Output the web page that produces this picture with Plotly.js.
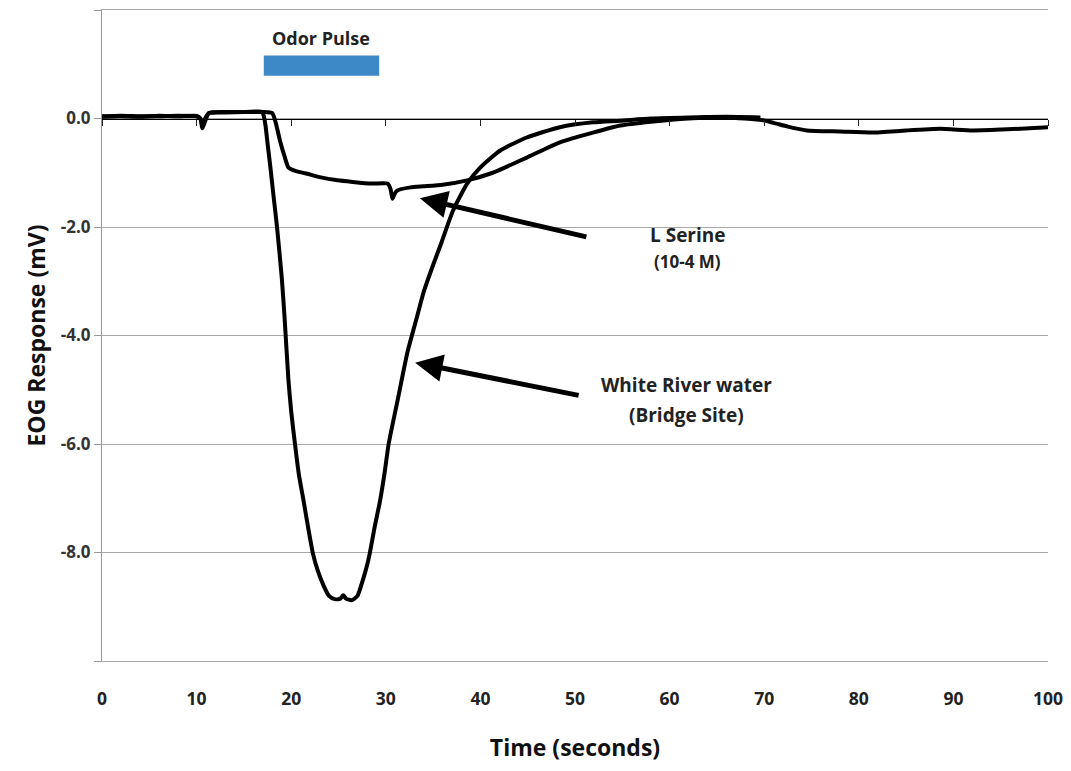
<!DOCTYPE html>
<html>
<head>
<meta charset="utf-8">
<script src="https://cdn.plot.ly/plotly-3.0.1.min.js"></script>
<style>html,body{margin:0;padding:0;background:#fff;}#chart{width:1071px;height:771px;}</style>
</head>
<body>
<div id="chart"></div>
<script>
// White River water (Bridge Site) trace
const riverTime = [0,2,4,6,8,10,10.4,10.6,10.9,11.3,13,15,16.5,16.9,17.1,17.3,17.5,17.8,18.1,18.5,19.0,19.3,19.7,20.0,20.4,20.8,21.3,21.8,22.3,22.8,23.4,24.0,24.6,25.2,25.5,25.8,26.4,27.0,27.5,28.0,28.3,28.8,29.4,29.9,30.3,31.3,32.3,33.2,34.0,35.0,35.9,37.1,38.6,40.0,42.1,44.9,48.4,51.9,54.8,58,62,66,69.6];
const riverEOG  = [0.03,0.04,0.03,0.05,0.04,0.05,0.0,-0.18,-0.05,0.1,0.12,0.12,0.13,0.12,0.05,-0.15,-0.46,-0.9,-1.38,-2.0,-2.93,-3.67,-4.8,-5.4,-6.0,-6.55,-7.04,-7.55,-8.02,-8.33,-8.6,-8.8,-8.86,-8.85,-8.79,-8.85,-8.88,-8.8,-8.55,-8.25,-8.02,-7.55,-7.04,-6.5,-6.0,-5.15,-4.3,-3.72,-3.2,-2.7,-2.28,-1.7,-1.2,-0.9,-0.59,-0.35,-0.16,-0.07,-0.04,0.0,0.02,0.03,0.02];

// L Serine (10-4 M) trace
const serineTime = [0,2,4,6,8,10,10.4,10.6,10.9,11.3,13,15,17,18.0,18.4,18.8,19.3,19.7,20.5,21.5,23,24.9,26.5,28.5,30.2,30.5,30.7,30.9,31.2,32.6,34,36,38.6,41.3,44.9,48.4,51.9,54.8,58,62,66,69.8,71,72.5,74.5,78,81.5,85,88.6,92,95.7,100];
const serineEOG  = [0.04,0.05,0.04,0.04,0.05,0.04,0.0,-0.12,0.0,0.1,0.11,0.12,0.12,0.1,-0.1,-0.4,-0.7,-0.9,-0.97,-1.01,-1.08,-1.14,-1.17,-1.2,-1.2,-1.3,-1.48,-1.4,-1.33,-1.27,-1.25,-1.22,-1.14,-1.0,-0.72,-0.44,-0.26,-0.13,-0.06,0.0,0.02,-0.03,-0.08,-0.15,-0.22,-0.24,-0.26,-0.22,-0.19,-0.22,-0.2,-0.16];

// Odor pulse window (seconds) and bar height (mV)
const pulseStart = 17.1, pulseEnd = 29.3;
const pulseLow = 0.79, pulseHigh = 1.16;

const yTickVals = [-10,-8,-6,-4,-2,0,2];
const yTickText = ['','-8.0','-6.0','-4.0','-2.0','0.0',''];
const xTickVals = [0,10,20,30,40,50,60,70,80,90,100];

const FONT = '"Open Sans", Lato, sans-serif';

const traces = [
  {x: riverTime, y: riverEOG, type:'scatter', mode:'lines', name:'White River water',
   line:{color:'#000', width:4, shape:'spline', smoothing:0.6}, xaxis:'x', yaxis:'y'},
  {x: serineTime, y: serineEOG, type:'scatter', mode:'lines', name:'L Serine',
   line:{color:'#000', width:4, shape:'spline', smoothing:0.5}, xaxis:'x2', yaxis:'y'}
];

const layout = {
  width:1071, height:771,
  margin:{l:102, r:23, t:10, b:110},
  paper_bgcolor:'#fff', plot_bgcolor:'#fff',
  showlegend:false,
  font:{family:FONT, color:'#222'},
  xaxis:{
    range:[0,100], tickvals:xTickVals, showgrid:false, zeroline:false,
    showline:true, mirror:true, linecolor:'#a8a8a8', linewidth:1, ticks:'', ticklabelstandoff:22,
    tickfont:{family:FONT, size:17.5, weight:'bold', color:'#222'},
    title:{text:'Time (seconds)', font:{family:FONT, size:23, weight:'bold', color:'#111'}, standoff:30}
  },
  xaxis2:{
    range:[0,100], overlaying:'x', anchor:'free', position:10/12, side:'bottom',
    tickvals:xTickVals, showticklabels:false, ticks:'outside', ticklen:6, tickcolor:'#222', tickwidth:1,
    showline:true, linecolor:'#000', linewidth:1, showgrid:false, zeroline:false
  },
  yaxis:{
    range:[-10,2], tickvals:yTickVals, ticktext:yTickText,
    showgrid:true, gridcolor:'#a8a8a8', gridwidth:1, zeroline:false,
    showline:true, linecolor:'#999', linewidth:1,
    ticks:'outside', ticklen:7, tickcolor:'#999',
    tickfont:{family:FONT, size:17, weight:'bold', color:'#333'},
    title:{text:'EOG Response (mV)', font:{family:FONT, size:23, weight:'bold', color:'#111'}, standoff:8}
  },
  shapes:[
    {type:'rect', xref:'x', yref:'y', x0:pulseStart, x1:pulseEnd, y0:pulseLow, y1:pulseHigh,
     fillcolor:'#3d89c8', line:{width:0}}
  ],
  annotations:[
    {x:(pulseStart+pulseEnd)/2, y:1.49, xref:'x', yref:'y', text:'Odor Pulse', showarrow:false,
     font:{family:FONT, size:18, weight:'bold', color:'#222'}},
    {x:33.6, y:-1.47, xref:'x', yref:'y', ax:168, ay:39, text:'',
     showarrow:true, arrowhead:2, arrowsize:1.1, arrowwidth:5, arrowcolor:'#000'},
    {x:33.1, y:-4.5, xref:'x', yref:'y', ax:165, ay:33, text:'',
     showarrow:true, arrowhead:2, arrowsize:1.1, arrowwidth:5, arrowcolor:'#000'},
    {x:61.9, y:-2.15, xref:'x', yref:'y', text:'L Serine', showarrow:false,
     font:{family:FONT, size:19, weight:'bold', color:'#222'}},
    {x:61.9, y:-2.64, xref:'x', yref:'y', text:'(10-4 M)', showarrow:false,
     font:{family:FONT, size:17, weight:'bold', color:'#222'}},
    {x:61.8, y:-4.92, xref:'x', yref:'y', text:'White River water', showarrow:false,
     font:{family:FONT, size:19, weight:'bold', color:'#222'}},
    {x:61.8, y:-5.47, xref:'x', yref:'y', text:'(Bridge Site)', showarrow:false,
     font:{family:FONT, size:19, weight:'bold', color:'#222'}}
  ]
};

Plotly.newPlot('chart', traces, layout, {displayModeBar:false, staticPlot:true});
</script>
</body>
</html>
